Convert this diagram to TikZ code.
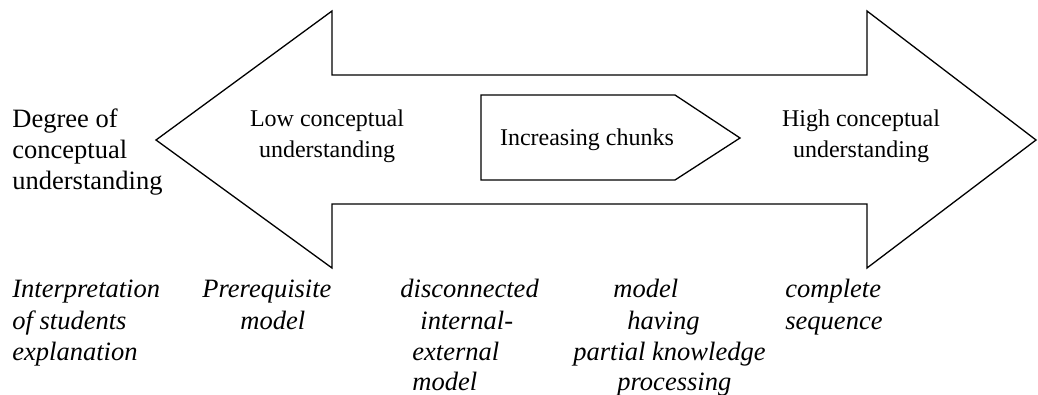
\documentclass[tikz,border=0pt]{standalone}
\usepackage{fontspec}
\setmainfont{Liberation Serif}
\begin{document}
\begin{tikzpicture}[x=0.5pt,y=-0.5pt,
  outline/.style={draw, line width=0.65pt, line join=miter},
  inlabel/.style={inner sep=0pt, anchor=base, font=\fontsize{12}{15.5}\selectfont},
  sidetext/.style={inner sep=0pt, anchor=base west, font=\fontsize{13.25}{15.5}\selectfont},
  stage/.style={sidetext, font=\fontsize{13.25}{15.5}\selectfont\itshape}]
\useasboundingbox (0,0) rectangle (1038,395);
% double headed arrow
\draw[outline] (156,140) -- (332,11) -- (332,75) -- (867,75) -- (867,11) -- (1036,140)
  -- (867,268) -- (867,204) -- (332,204) -- (332,268) -- cycle;
% inner arrow
\draw[outline] (481,95) -- (675,95) -- (740,138) -- (675,180) -- (481,180) -- cycle;
\node[inlabel] (chunks) at (587,146) {Increasing chunks};
% labels inside the arrow heads
\node[inlabel] (lowA) at (327,127) {Low conceptual};
\node[inlabel] (lowB) at (327,158) {understanding};
\node[inlabel] (highA) at (861,127) {High conceptual};
\node[inlabel] (highB) at (861,158) {understanding};
% left label
\node[sidetext] (degA) at (12,128) {Degree of};
\node[sidetext] (degB) at (12,159) {conceptual};
\node[sidetext] (degC) at (12,190) {understanding};
% interpretation row
\node[stage] (intA) at (12,298) {Interpretation};
\node[stage] (intB) at (12,329) {of students};
\node[stage] (intC) at (12,360) {explanation};
\node[stage] (preA) at (202,298) {Prerequisite};
\node[stage] (preB) at (240,329) {model};
\node[stage] (disA) at (400,298) {disconnected};
\node[stage] (disB) at (420,329) {internal-};
\node[stage] (disC) at (412,360) {external};
\node[stage] (disD) at (412,390) {model};
\node[stage] (parA) at (613,298) {model};
\node[stage] (parB) at (627,329) {having};
\node[stage] (parC) at (573,360) {partial knowledge};
\node[stage] (parD) at (617,390) {processing};
\node[stage] (comA) at (785,298) {complete};
\node[stage] (comB) at (785,329) {sequence};
\end{tikzpicture}
\end{document}
